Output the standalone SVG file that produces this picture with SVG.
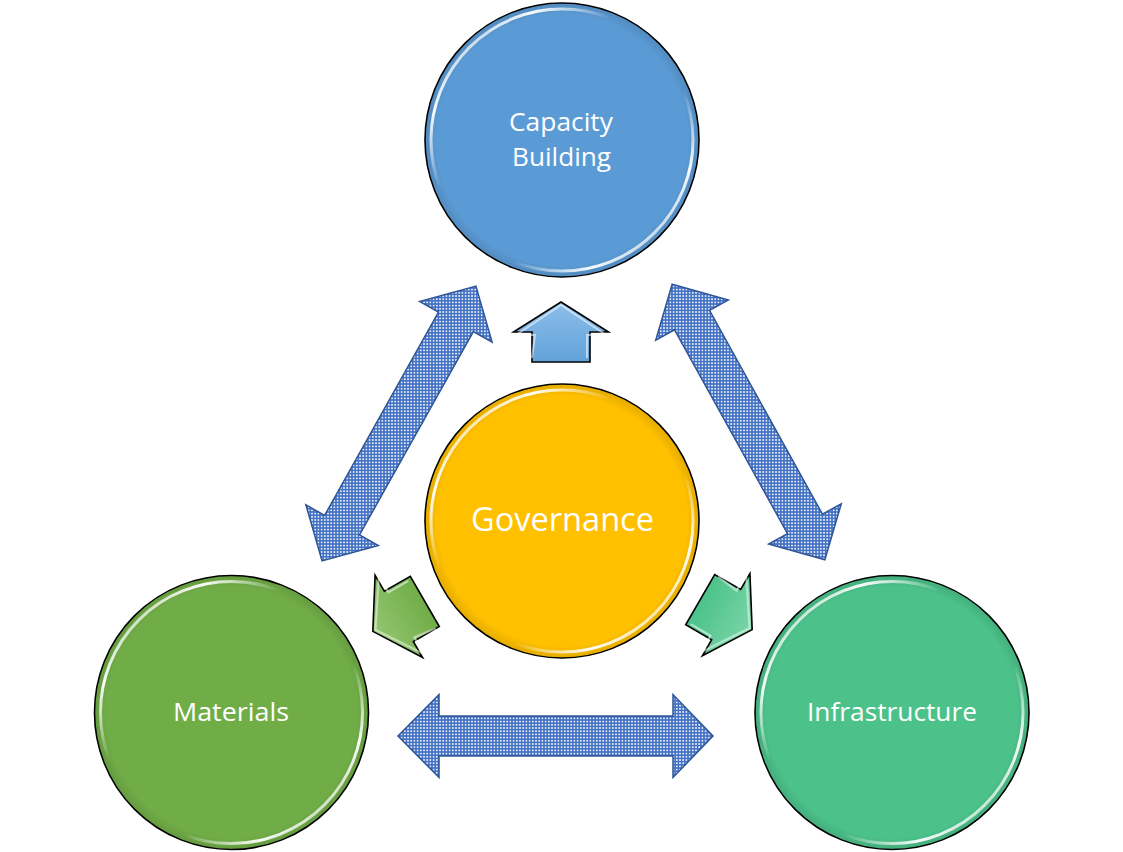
<svg xmlns="http://www.w3.org/2000/svg" width="1123" height="852" viewBox="0 0 1123 852">
<style>
.circ{stroke:#000;stroke-width:1.6}
.hl{fill:none;stroke:url(#hlg);stroke-width:3;filter:url(#soft)}
.rim{fill:url(#rimg);stroke:none}
.lbl{font-family:"Open Sans","Noto Sans","DejaVu Sans",sans-serif;fill:#fff;text-anchor:middle}
.dbl{fill:url(#mesh);stroke:#2F5597;stroke-width:1.5;stroke-linejoin:miter}
.sm{stroke:#000;stroke-width:1.6;stroke-linejoin:miter}
.smhl{fill:none;stroke:#fff;stroke-opacity:0.55;stroke-width:2;filter:url(#soft)}
</style>
<defs>
<linearGradient id="hlg" x1="0" y1="0" x2="1" y2="1">
<stop offset="0" stop-color="#fff" stop-opacity="0"/>
<stop offset="0.2" stop-color="#fff" stop-opacity="0.95"/>
<stop offset="0.36" stop-color="#fff" stop-opacity="0"/>
<stop offset="0.64" stop-color="#fff" stop-opacity="0"/>
<stop offset="0.8" stop-color="#fff" stop-opacity="0.95"/>
<stop offset="1" stop-color="#fff" stop-opacity="0"/>
</linearGradient>
<radialGradient id="rimg" cx="0.5" cy="0.5" r="0.5">
<stop offset="0.92" stop-color="#000" stop-opacity="0"/>
<stop offset="1" stop-color="#000" stop-opacity="0.1"/>
</radialGradient>
<filter id="soft" x="-10%" y="-10%" width="120%" height="120%"><feGaussianBlur stdDeviation="0.7"/></filter>
<pattern id="mesh" width="3.2" height="3.2" patternUnits="userSpaceOnUse">
<rect width="3.2" height="3.2" fill="#4472C4"/>
<rect x="0.8" y="0.8" width="1.6" height="1.6" fill="#fff" fill-opacity="0.9"/>
</pattern>
<linearGradient id="gBlue" x1="0" y1="0" x2="0" y2="1"><stop offset="0" stop-color="#8DBEEA"/><stop offset="1" stop-color="#62A2DA"/></linearGradient>
<linearGradient id="gGreen" x1="0" y1="0" x2="0" y2="1"><stop offset="0" stop-color="#93C672"/><stop offset="1" stop-color="#70AD47"/></linearGradient>
<linearGradient id="gTeal" x1="0" y1="0" x2="0" y2="1"><stop offset="0" stop-color="#7AD5A8"/><stop offset="1" stop-color="#4CC28A"/></linearGradient>
<polygon id="upA" points="561,302 608.5,332 590,332 590,362 532,362 532,332 513.5,332"/>
<polyline id="upHL" points="532,358 535,335 516,335 561,305 606,335 587,335 587,358"/>
</defs>
<rect width="1123" height="852" fill="#fff"/>
<g id="connectors">
<polygon class="dbl" points="475.95,286.1 492.12,342.15 473.37,331.64 359.53,534.9 378.28,545.41 322.05,560.9 305.88,504.85 324.63,515.36 438.47,312.1 419.72,301.59"/>
<polygon class="dbl" points="672.14,284.25 728.32,299.99 709.51,310.41 822.47,514.19 841.28,503.77 824.86,559.75 768.68,544.01 787.49,533.59 674.53,329.81 655.72,340.23"/>
<polygon class="dbl" points="398,736 439,694.5 439,716 673,716 673,694.5 713,736 673,777.5 673,756 439,756 439,777.5"/>
<g id="arrow-cap">
<use href="#upA" class="sm" fill="url(#gBlue)"/>
<use href="#upHL" class="smhl"/>
</g>
<g id="arrow-mat" transform="rotate(-120 562 521)">
<use href="#upA" class="sm" fill="url(#gGreen)"/>
<use href="#upHL" class="smhl"/>
</g>
<g id="arrow-inf" transform="rotate(120 562 521)">
<use href="#upA" class="sm" fill="url(#gTeal)"/>
<use href="#upHL" class="smhl"/>
</g>
</g>
<g id="capacity">
<circle class="circ" cx="562" cy="140" r="137" fill="#5B9BD5"/>
<circle class="rim" cx="562" cy="140" r="136"/>
<circle class="hl" cx="562" cy="140" r="131"/>
<text class="lbl" font-size="25" x="561" y="131" textLength="104" lengthAdjust="spacingAndGlyphs">Capacity</text>
<text class="lbl" font-size="25" x="561.5" y="166" textLength="99" lengthAdjust="spacingAndGlyphs">Building</text>
</g>
<g id="governance">
<circle class="circ" cx="562" cy="521" r="137" fill="#FFC000"/>
<circle class="rim" cx="562" cy="521" r="136"/>
<circle class="hl" cx="562" cy="521" r="131"/>
<text class="lbl" font-size="32" x="562.5" y="531" textLength="183" lengthAdjust="spacingAndGlyphs">Governance</text>
</g>
<g id="materials">
<circle class="circ" cx="231.5" cy="712.5" r="137" fill="#70AD47"/>
<circle class="rim" cx="231.5" cy="712.5" r="136"/>
<circle class="hl" cx="231.5" cy="712.5" r="131"/>
<text class="lbl" font-size="26" x="231" y="721" textLength="116" lengthAdjust="spacingAndGlyphs">Materials</text>
</g>
<g id="infrastructure">
<circle class="circ" cx="892" cy="712.5" r="137" fill="#4CC28A"/>
<circle class="rim" cx="892" cy="712.5" r="136"/>
<circle class="hl" cx="892" cy="712.5" r="131"/>
<text class="lbl" font-size="26" x="892" y="721" textLength="170" lengthAdjust="spacingAndGlyphs">Infrastructure</text>
</g>
</svg>
